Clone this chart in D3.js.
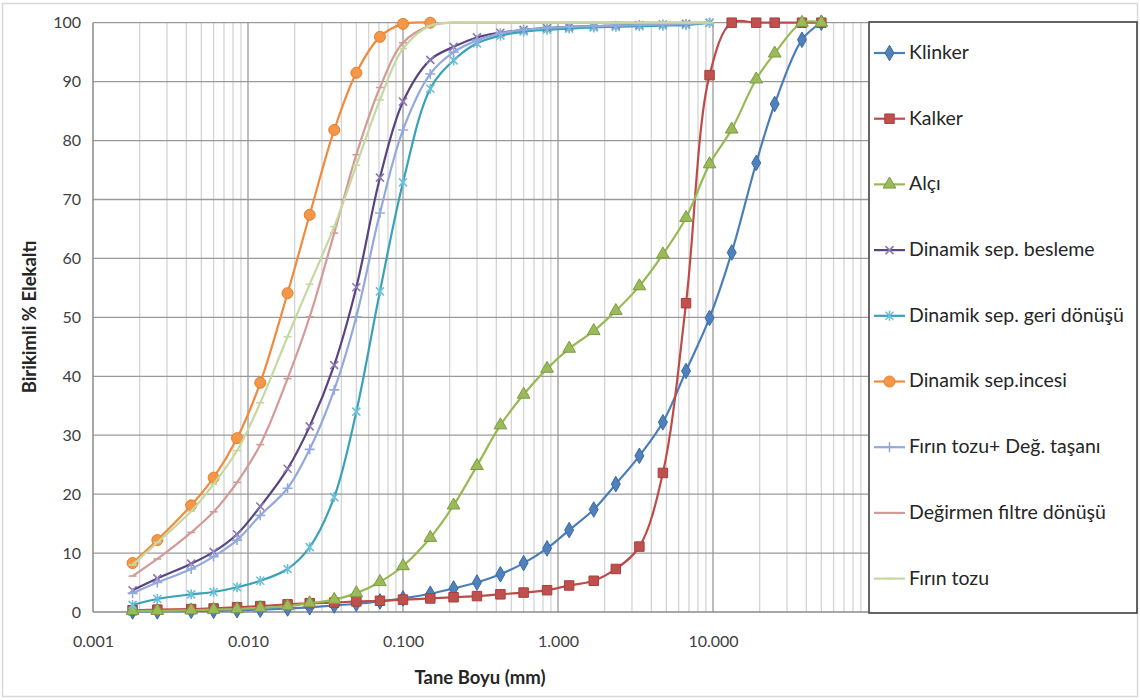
<!DOCTYPE html>
<html>
<head>
<meta charset="utf-8">
<script src="https://cdn.jsdelivr.net/npm/d3@7"></script>
<style>
  html, body { margin: 0; padding: 0; background: #ffffff; }
  svg { display: block; }
  text { font-family: Lato, "Open Sans", "DejaVu Sans", sans-serif; }
</style>
</head>
<body>
<svg id="chart" width="1140" height="700"></svg>
<script>
// Sieve / particle sizes (mm)
const sizesAll = [0.0018, 0.0026, 0.0043, 0.006, 0.0085, 0.012, 0.018, 0.025, 0.036, 0.05,
  0.071, 0.1, 0.15, 0.212, 0.3, 0.425, 0.6, 0.85, 1.18, 1.7, 2.36, 3.35, 4.75, 6.7, 9.5,
  13.2, 19, 25, 37.5, 50];
const sizesFine = sizesAll.slice(0, 25);   // up to 9.5 mm
const sizesInce = sizesAll.slice(0, 13);   // up to 0.15 mm

// Cumulative passing (%)
const klinker = [0.1, 0.1, 0.2, 0.2, 0.3, 0.4, 0.6, 0.8, 1.1, 1.4, 1.8, 2.3, 3.1, 4.0, 5.0,
  6.4, 8.3, 10.8, 13.9, 17.4, 21.7, 26.5, 32.2, 40.9, 49.9, 61.0, 76.2, 86.2, 97.1, 100];
const kalker = [0.3, 0.4, 0.5, 0.6, 0.8, 1.0, 1.3, 1.5, 1.6, 1.8, 1.9, 2.1, 2.3, 2.5, 2.7,
  3.0, 3.3, 3.7, 4.5, 5.3, 7.3, 11.1, 23.6, 52.4, 91.1, 100, 100, 100, 100, 100];
const alci = [0.2, 0.2, 0.3, 0.4, 0.5, 0.7, 1.0, 1.5, 2.1, 3.2, 5.1, 7.8, 12.6, 18.1, 24.8,
  31.7, 36.9, 41.3, 44.7, 47.7, 51.1, 55.3, 60.7, 66.9, 76.0, 81.9, 90.4, 94.8, 100, 100];
const sepBesleme = [3.7, 5.7, 8.2, 10.2, 13.2, 17.9, 24.3, 31.5, 41.9, 55.1, 73.7, 86.6,
  93.7, 95.9, 97.5, 98.3, 98.8, 99.1, 99.3, 99.4, 99.5, 99.6, 99.7, 99.8, 100];
const sepGeriDonusu = [1.2, 2.2, 3.0, 3.4, 4.2, 5.3, 7.3, 11.0, 19.5, 34.0, 54.4, 72.9,
  88.8, 93.6, 96.5, 97.8, 98.5, 98.8, 99.0, 99.2, 99.3, 99.4, 99.5, 99.6, 100];
const sepIncesi = [8.3, 12.2, 18.1, 22.8, 29.5, 38.9, 54.1, 67.4, 81.8, 91.5, 97.6, 99.8, 100];
const firinTozuDeg = [3.2, 5.0, 7.3, 9.4, 12.2, 16.4, 21.0, 27.6, 37.7, 50.1, 67.7, 81.8,
  91.3, 95.0, 97.0, 98.2, 98.8, 99.1, 99.3, 99.4, 99.5, 99.6, 99.7, 99.8, 100];
const degirmenFiltre = [6.1, 9.0, 13.5, 17.0, 22.0, 28.4, 39.6, 50.1, 64.3, 77.6, 89.0,
  96.6, 99.5, 100, 100, 100, 100, 100, 100, 100, 100, 100, 100, 100, 100];
const firinTozu = [8.0, 11.8, 17.1, 21.7, 27.4, 35.5, 46.7, 55.6, 65.4, 75.8, 86.9, 95.6,
  99.5, 100, 100, 100, 100, 100, 100, 100, 100, 100, 100, 100, 100];

const seriesNames = ["Klinker", "Kalker", "Alçı", "Dinamik sep. besleme",
  "Dinamik sep. geri dönüşü", "Dinamik sep.incesi", "Fırın tozu+ Değ. taşanı",
  "Değirmen filtre dönüşü", "Fırın tozu"];

const yTickValues = [0, 10, 20, 30, 40, 50, 60, 70, 80, 90, 100];
const xTickValues = [0.001, 0.01, 0.1, 1, 10];
const xTickLabels = ["0.001", "0.010", "0.100", "1.000", "10.000"];

// Series styling (line colour, marker type, marker colours)
const series = [
  { name: seriesNames[0], x: sizesAll, y: klinker, line: "#4a7ebb", marker: "diamond", fill: "#4f81bd", stroke: "#3b6aa0" },
  { name: seriesNames[1], x: sizesAll, y: kalker, line: "#be4b48", marker: "square", fill: "#c0504d", stroke: "#a5403d" },
  { name: seriesNames[2], x: sizesAll, y: alci, line: "#98b954", marker: "triangle", fill: "#9bbb59", stroke: "#7d9a44" },
  { name: seriesNames[3], x: sizesFine, y: sepBesleme, line: "#574580", marker: "x", fill: "none", stroke: "#8c78b0" },
  { name: seriesNames[4], x: sizesFine, y: sepGeriDonusu, line: "#3aa1b8", marker: "asterisk", fill: "none", stroke: "#6cc0d6" },
  { name: seriesNames[5], x: sizesInce, y: sepIncesi, line: "#f08a3c", marker: "circle", fill: "#f79646", stroke: "#e07f30" },
  { name: seriesNames[6], x: sizesFine, y: firinTozuDeg, line: "#93a9dc", marker: "plus", fill: "none", stroke: "#93a9dc" },
  { name: seriesNames[7], x: sizesFine, y: degirmenFiltre, line: "#d49a98", marker: "dash", fill: "none", stroke: "#d49a98" },
  { name: seriesNames[8], x: sizesFine, y: firinTozu, line: "#c5d8a0", marker: "dash", fill: "none", stroke: "#c5d8a0" }
];

const svg = d3.select("#chart");
const W = 1140, H = 700;
const plot = { left: 93, right: 868, top: 22.7, bottom: 612 };

// Outer chart frame
svg.append("rect")
  .attr("x", 2.5).attr("y", 3.5).attr("width", W - 5).attr("height", H - 7)
  .attr("fill", "#ffffff").attr("stroke", "#d9d9d9").attr("stroke-width", 1.5);

const x = d3.scaleLog().domain([0.001, 100]).range([plot.left, plot.right]);
const y = d3.scaleLinear().domain([0, 100]).range([plot.bottom, plot.top]);

const grid = svg.append("g");

// Minor vertical gridlines (2..9 of each decade)
const minorTicks = [];
for (let e = -3; e < 2; e++) {
  for (let m = 2; m <= 9; m++) minorTicks.push(m * Math.pow(10, e));
}
grid.selectAll("line.minor").data(minorTicks).join("line")
  .attr("class", "minor")
  .attr("x1", d => x(d)).attr("x2", d => x(d))
  .attr("y1", plot.top).attr("y2", plot.bottom)
  .attr("stroke", "#d4d4d4").attr("stroke-width", 1.3);

// Major vertical gridlines (decades)
grid.selectAll("line.majorx").data([0.01, 0.1, 1, 10]).join("line")
  .attr("class", "majorx")
  .attr("x1", d => x(d)).attr("x2", d => x(d))
  .attr("y1", plot.top).attr("y2", plot.bottom)
  .attr("stroke", "#9a9a9a").attr("stroke-width", 1.3);

// Horizontal gridlines
grid.selectAll("line.majory").data(yTickValues.slice(1)).join("line")
  .attr("class", "majory")
  .attr("x1", plot.left).attr("x2", plot.right)
  .attr("y1", d => y(d)).attr("y2", d => y(d))
  .attr("stroke", "#9a9a9a").attr("stroke-width", 1.3);

// Axis lines
svg.append("line")
  .attr("x1", plot.left).attr("x2", plot.left)
  .attr("y1", plot.top).attr("y2", plot.bottom)
  .attr("stroke", "#8a8a8a").attr("stroke-width", 1.5);
svg.append("line")
  .attr("x1", plot.left).attr("x2", plot.right)
  .attr("y1", plot.bottom).attr("y2", plot.bottom)
  .attr("stroke", "#8a8a8a").attr("stroke-width", 1.5);

// Y axis
const yAxis = d3.axisLeft(y).tickValues(yTickValues).tickSize(0).tickPadding(12);
const gy = svg.append("g").attr("transform", `translate(${plot.left},0)`).call(yAxis);
gy.select(".domain").remove();
gy.selectAll("text").attr("font-size", 16).attr("fill", "#404040")
  .attr("font-family", "Lato, sans-serif");

// X axis
const xAxis = d3.axisBottom(x).tickValues(xTickValues)
  .tickFormat((d, i) => xTickLabels[i]).tickSize(0).tickPadding(24);
const gx = svg.append("g").attr("transform", `translate(0,${plot.bottom})`).call(xAxis);
gx.select(".domain").remove();
gx.selectAll("text").attr("font-size", 16).attr("fill", "#404040")
  .attr("font-family", "Lato, sans-serif");

// Axis titles
svg.append("text")
  .attr("x", 480).attr("y", 684)
  .attr("text-anchor", "middle")
  .attr("font-size", 18.5).attr("font-weight", "bold").attr("fill", "#262626")
  .text("Tane Boyu (mm)");
svg.append("text")
  .attr("transform", "translate(36,317) rotate(-90)")
  .attr("text-anchor", "middle")
  .attr("font-size", 18.5).attr("font-weight", "bold").attr("fill", "#262626")
  .text("Birikimli % Elekaltı");

// Marker shapes
function markerPath(type) {
  switch (type) {
    case "diamond": return d3.symbol(d3.symbolDiamond, 70)();
    case "square": return d3.symbol(d3.symbolSquare, 90)();
    case "triangle": return d3.symbol(d3.symbolTriangle, 70)();
    case "circle": return d3.symbol(d3.symbolCircle, 95)();
    case "x": return "M-4,-4L4,4M-4,4L4,-4";
    case "asterisk": return "M-4,-4L4,4M-4,4L4,-4M0,-5V5";
    case "plus": return "M-5,0H5M0,-5V5";
    case "dash": return "M-4,0H4";
  }
}
function drawMarker(sel, s) {
  const filled = s.fill !== "none";
  sel.attr("d", markerPath(s.marker))
    .attr("fill", filled ? s.fill : "none")
    .attr("stroke", s.stroke)
    .attr("stroke-width", filled ? 1 : 1.6);
}

// Lines and markers
const line = d3.line()
  .x(d => x(d[0])).y(d => y(d[1]))
  .curve(d3.curveCatmullRom.alpha(0.5));

const plotG = svg.append("g");
series.forEach(s => {
  const pts = s.x.map((v, i) => [v, s.y[i]]);
  const g = plotG.append("g");
  g.append("path").datum(pts)
    .attr("d", line)
    .attr("fill", "none")
    .attr("stroke", s.line)
    .attr("stroke-width", 2.2)
    .attr("stroke-linejoin", "round");
  g.selectAll("path.mk").data(pts).join("path")
    .attr("class", "mk")
    .attr("transform", d => `translate(${x(d[0])},${y(d[1])})`)
    .call(sel => drawMarker(sel, s));
});

// Legend
const legend = svg.append("g");
legend.append("rect")
  .attr("x", 869).attr("y", 22).attr("width", 268).attr("height", 591)
  .attr("fill", "#ffffff").attr("stroke", "#3f3f3f").attr("stroke-width", 1.6);

const legendItems = legend.selectAll("g.item").data(series).join("g")
  .attr("class", "item")
  .attr("transform", (d, i) => `translate(0,${54 + i * 65.7})`);
legendItems.append("line")
  .attr("x1", 874).attr("x2", 905).attr("y1", -1).attr("y2", -1)
  .attr("stroke", d => d.line).attr("stroke-width", 2.2);
legendItems.append("path")
  .attr("transform", "translate(889.5,-1)")
  .each(function (d) { drawMarker(d3.select(this), d); });
legendItems.append("text")
  .attr("x", 909).attr("y", 0)
  .attr("dominant-baseline", "middle")
  .attr("font-size", 19.5).attr("fill", "#262626")
  .text(d => d.name);
</script>
</body>
</html>
